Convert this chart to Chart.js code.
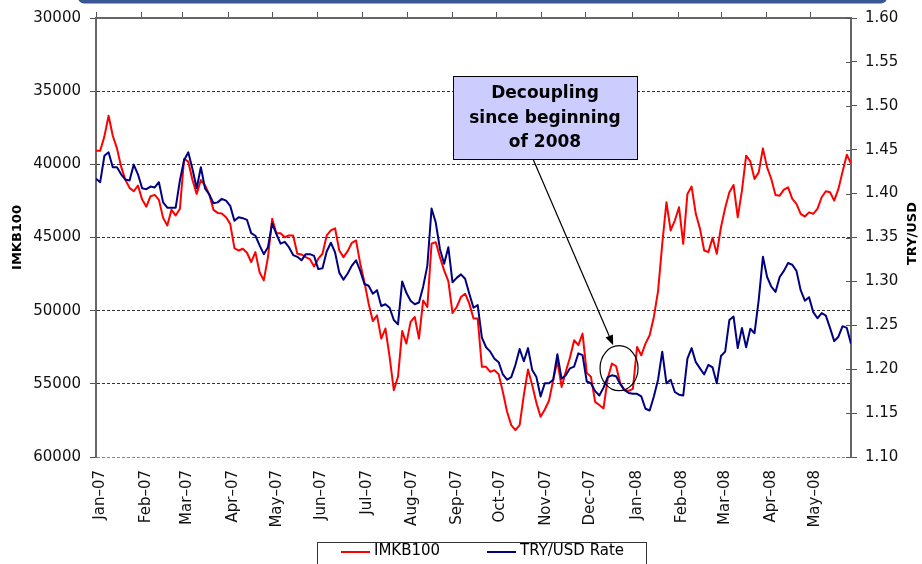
<!DOCTYPE html>
<html>
<head>
<meta charset="utf-8">
<script src="https://cdn.jsdelivr.net/npm/chart.js@4"></script>
<style>
  html, body { margin: 0; padding: 0; background: #fff; }
  #wrap { width: 922px; height: 564px; position: relative; }
</style>
</head>
<body>
<div id="wrap"><canvas id="c"></canvas></div>
<script>
// Month labels and where each month begins, in sample units (one sample every two trading days)
const monthLabels = ['Jan–07','Feb–07','Mar–07','Apr–07','May–07','Jun–07','Jul–07','Aug–07',
  'Sep–07','Oct–07','Nov–07','Dec–07','Jan–08','Feb–08','Mar–08','Apr–08','May–08'];
const monthStart = [0, 10.9, 20.67, 31.64, 42.13, 52.76, 63.58, 74.31, 85.04, 95.37,
  106.33, 116.82, 127.96, 138.83, 149.01, 159.9, 170.39];

const seriesNames = ['IMKB100', 'TRY/USD Rate'];

// ISE National 100 index (left axis, inverted)
const imkb100 = [
  39070, 39070, 38090, 36680, 38050, 38910, 40160, 41050, 41610, 41840,
  41450, 42410, 42890, 42180, 42090, 42430, 43660, 44180, 43110, 43500,
  43040, 39630, 39820, 41070, 42020, 41070, 41450, 42050, 43110, 43320,
  43360, 43620, 44070, 45730, 45890, 45770, 46040, 46680, 46000, 47370,
  47930, 46340, 43720, 44710, 44710, 44980, 44860, 44860, 46110, 46160,
  46340, 46480, 46980, 46450, 46110, 44860, 44520, 44370, 45890, 46340,
  45930, 45360, 45200, 46790, 48050, 49520, 50710, 50320, 51910, 51220,
  53160, 55430, 54520, 51390, 52250, 50770, 50430, 51910, 49300, 49750,
  45430, 45320, 46340, 47250, 47980, 50160, 49750, 49070, 48840, 49520,
  50540, 50540, 53840, 53840, 54180, 54070, 54340, 55550, 56910, 57820,
  58160, 57820, 55770, 54020, 55090, 56300, 57250, 56750, 56160, 54750,
  53430, 55210, 54180, 53200, 52020, 52360, 51570, 54250, 54520, 56230,
  56450, 56680, 54630, 53610, 53800, 54970, 55430, 55480, 55340, 52480,
  53050, 52250, 51680, 50430, 48660, 45430, 42590, 44520, 43840, 42930,
  45430, 42020, 41520, 43380, 44410, 45890, 46000, 45020, 46110, 44300,
  42980, 41910, 41410, 43620, 41800, 39410, 39800, 41000, 40550, 38910,
  40210, 41000, 42090, 42140, 41730, 41570, 42360, 42700, 43380, 43570,
  43280, 43380, 43040, 42250, 41840, 41910, 42480, 41680, 40480, 39340,
  39950
];

// TRY per USD (right axis)
const tryUsd = [
  1.417, 1.413, 1.443, 1.447, 1.430, 1.430, 1.422, 1.416, 1.415, 1.433,
  1.422, 1.406, 1.405, 1.408, 1.407, 1.413, 1.390, 1.384, 1.384, 1.384,
  1.415, 1.438, 1.447, 1.428, 1.406, 1.430, 1.406, 1.399, 1.389, 1.390,
  1.394, 1.392, 1.386, 1.369, 1.373, 1.372, 1.370, 1.355, 1.352, 1.341,
  1.331, 1.339, 1.366, 1.354, 1.343, 1.345, 1.339, 1.330, 1.328, 1.324,
  1.331, 1.331, 1.329, 1.314, 1.315, 1.334, 1.344, 1.333, 1.310, 1.302,
  1.309, 1.318, 1.324, 1.312, 1.297, 1.295, 1.286, 1.290, 1.272, 1.274,
  1.270, 1.256, 1.251, 1.300, 1.287, 1.278, 1.274, 1.276, 1.294, 1.318,
  1.383, 1.367, 1.337, 1.320, 1.339, 1.299, 1.304, 1.308, 1.303, 1.286,
  1.270, 1.273, 1.236, 1.225, 1.220, 1.212, 1.208, 1.194, 1.188, 1.191,
  1.205, 1.223, 1.209, 1.224, 1.199, 1.191, 1.169, 1.184, 1.184, 1.188,
  1.217, 1.189, 1.193, 1.201, 1.203, 1.218, 1.216, 1.186, 1.184, 1.175,
  1.170, 1.179, 1.191, 1.193, 1.192, 1.183, 1.176, 1.173, 1.172, 1.172,
  1.169, 1.155, 1.153, 1.169, 1.188, 1.220, 1.184, 1.188, 1.174, 1.171,
  1.170, 1.212, 1.224, 1.208, 1.201, 1.194, 1.205, 1.202, 1.184, 1.215,
  1.220, 1.256, 1.260, 1.224, 1.247, 1.225, 1.246, 1.241, 1.279, 1.328,
  1.305, 1.294, 1.288, 1.305, 1.312, 1.321, 1.319, 1.312, 1.290, 1.278,
  1.282, 1.265, 1.258, 1.264, 1.261, 1.247, 1.232, 1.237, 1.249, 1.247,
  1.229
];

const FONT = '"DejaVu Sans", Verdana, sans-serif';
const AXIS_GREY = '#666';

// Callout: text box, arrow tip and ring position (ring/tip in data units)
const callout = {
  lines: ['Decoupling', 'since beginning', 'of 2008'],
  box: { left: 453, top: 76, width: 184, height: 83 },
  tailX: 533,
  tip: { x: 123.3, y: 52360 },
  ring: { x: 124.7, y: 53930, rx: 19, ry: 22.5 }
};

const decor = {
  id: 'decor',
  afterDraw(chart) {
    const { ctx, chartArea: a, scales } = chart;
    const xs = scales.x, ys = scales.y, y2 = scales.y2;

    // strip of the frame above the plot
    ctx.save();
    ctx.fillStyle = '#3a5795';
    ctx.beginPath();
    ctx.roundRect(78, -12, 809, 15.5, 6);
    ctx.fill();
    ctx.restore();

    // inner half of the right axis tick marks
    ctx.save();
    ctx.strokeStyle = '#555';
    ctx.lineWidth = 1;
    y2.ticks.forEach((t, i) => {
      const py = Math.round(y2.getPixelForTick(i)) + 0.5;
      ctx.beginPath();
      ctx.moveTo(a.right - 5, py);
      ctx.lineTo(a.right, py);
      ctx.stroke();
    });
    ctx.restore();

    // axis titles
    ctx.save();
    ctx.fillStyle = '#000';
    ctx.font = 'bold 13px ' + FONT;
    ctx.textAlign = 'center';
    ctx.textBaseline = 'middle';
    const midY = (a.top + a.bottom) / 2;
    ctx.save(); ctx.translate(18, midY); ctx.rotate(-Math.PI / 2); ctx.fillText('IMKB100', 0, 0); ctx.restore();
    ctx.save(); ctx.translate(913, midY - 4); ctx.rotate(-Math.PI / 2); ctx.fillText('TRY/USD', 0, 0); ctx.restore();
    ctx.restore();

    // ring around the turning point
    const b = callout.box;
    const rx = xs.getPixelForValue(callout.ring.x), ry = ys.getPixelForValue(callout.ring.y);
    ctx.save();
    ctx.strokeStyle = '#000';
    ctx.lineWidth = 1.2;
    ctx.beginPath();
    ctx.ellipse(rx, ry, callout.ring.rx, callout.ring.ry, 0, 0, Math.PI * 2);
    ctx.stroke();

    // arrow from the box to the ring
    const sx = callout.tailX, sy = b.top + b.height;
    const tx = xs.getPixelForValue(callout.tip.x), ty = ys.getPixelForValue(callout.tip.y);
    const ang = Math.atan2(ty - sy, tx - sx);
    const hl = 10, hw = 4;
    const bx = tx - hl * Math.cos(ang), by = ty - hl * Math.sin(ang);
    ctx.lineWidth = 1.2;
    ctx.beginPath();
    ctx.moveTo(sx, sy);
    ctx.lineTo(bx, by);
    ctx.stroke();
    ctx.fillStyle = '#000';
    ctx.beginPath();
    ctx.moveTo(tx, ty);
    ctx.lineTo(bx + hw * Math.sin(ang), by - hw * Math.cos(ang));
    ctx.lineTo(bx - hw * Math.sin(ang), by + hw * Math.cos(ang));
    ctx.closePath();
    ctx.fill();

    // text box
    ctx.fillStyle = '#ccccff';
    ctx.fillRect(b.left, b.top, b.width, b.height);
    ctx.strokeStyle = '#000';
    ctx.lineWidth = 1;
    ctx.strokeRect(b.left + 0.5, b.top + 0.5, b.width, b.height);
    ctx.fillStyle = '#000';
    ctx.font = 'bold 17px ' + FONT;
    ctx.textAlign = 'center';
    ctx.textBaseline = 'alphabetic';
    const cx = b.left + b.width / 2;
    callout.lines.forEach((s, i) => ctx.fillText(s, cx, b.top + 22 + i * 24.5));
    ctx.restore();

    // legend
    ctx.save();
    ctx.strokeStyle = '#333';
    ctx.lineWidth = 1;
    ctx.strokeRect(317.5, 542.5, 329, 40);
    ctx.font = '15px ' + FONT;
    ctx.textBaseline = 'middle';
    ctx.textAlign = 'left';
    const items = [{ x: 341 }, { x: 487 }];
    chart.data.datasets.forEach((ds, i) => {
      const ix = items[i].x;
      ctx.strokeStyle = ds.borderColor;
      ctx.lineWidth = 2;
      ctx.beginPath();
      ctx.moveTo(ix, 552);
      ctx.lineTo(ix + 29, 552);
      ctx.stroke();
      ctx.fillStyle = '#000';
      ctx.fillText(ds.label, ix + 33, 551);
    });
    ctx.restore();
  }
};

const monthTicks = scale => { scale.ticks = monthStart.map(v => ({ value: v })); };

new Chart(document.getElementById('c'), {
  type: 'line',
  data: {
    datasets: [
      {
        label: seriesNames[0],
        data: imkb100.map((v, i) => ({ x: i, y: v })),
        xAxisID: 'x', yAxisID: 'y',
        borderColor: '#ff0000', borderWidth: 2, pointRadius: 0, tension: 0,
        borderJoinStyle: 'round', order: 2
      },
      {
        label: seriesNames[1],
        data: tryUsd.map((v, i) => ({ x: i, y: v })),
        xAxisID: 'x', yAxisID: 'y2',
        borderColor: '#000080', borderWidth: 2, pointRadius: 0, tension: 0,
        borderJoinStyle: 'round', order: 1
      }
    ]
  },
  options: {
    responsive: true,
    maintainAspectRatio: false,
    animation: false,
    layout: { padding: 0 },
    plugins: { legend: { display: false }, tooltip: { enabled: false } },
    scales: {
      x: {
        type: 'linear', position: 'bottom', min: 0, max: 180,
        afterBuildTicks: monthTicks,
        afterFit: s => { s.height = 107; },
        grid: { display: false, drawTicks: false },
        border: { display: false },
        ticks: {
          autoSkip: false, minRotation: 90, maxRotation: 90, padding: 13, labelOffset: 4,
          color: '#111', font: { family: FONT, size: 15 },
          callback: (v, i) => monthLabels[i]
        }
      },
      xTop: {
        type: 'linear', position: 'top', min: 0, max: 180,
        afterBuildTicks: monthTicks,
        afterFit: s => { s.height = 17; },
        grid: { drawOnChartArea: false, drawTicks: true, tickLength: 6, tickColor: '#555', tickWidth: 1 },
        border: { display: true, color: AXIS_GREY, width: 2 },
        ticks: { display: false }
      },
      y: {
        type: 'linear', position: 'left', reverse: true, min: 30000, max: 60000,
        afterFit: s => { s.width = 96; },
        ticks: { stepSize: 5000, padding: 9, color: '#111', font: { family: FONT, size: 15 }, callback: v => String(v) },
        grid: {
          color: c => (c.tick && c.tick.value === 30000) ? 'rgba(0,0,0,0)' : (c.tick && c.tick.value === 60000 ? '#888' : '#333'),
          lineWidth: 1, tickLength: 6, tickColor: '#555', tickWidth: 1
        },
        border: { display: true, color: AXIS_GREY, width: 2, dash: [3, 2] }
      },
      y2: {
        type: 'linear', position: 'right', min: 1.10, max: 1.60,
        afterFit: s => { s.width = 71; },
        ticks: { stepSize: 0.05, padding: 8, color: '#111', font: { family: FONT, size: 15 }, callback: v => v.toFixed(2) },
        grid: { drawOnChartArea: false, tickLength: 6, tickColor: '#555', tickWidth: 1 },
        border: { display: true, color: AXIS_GREY, width: 2 }
      }
    }
  },
  plugins: [decor]
});
</script>
</body>
</html>
